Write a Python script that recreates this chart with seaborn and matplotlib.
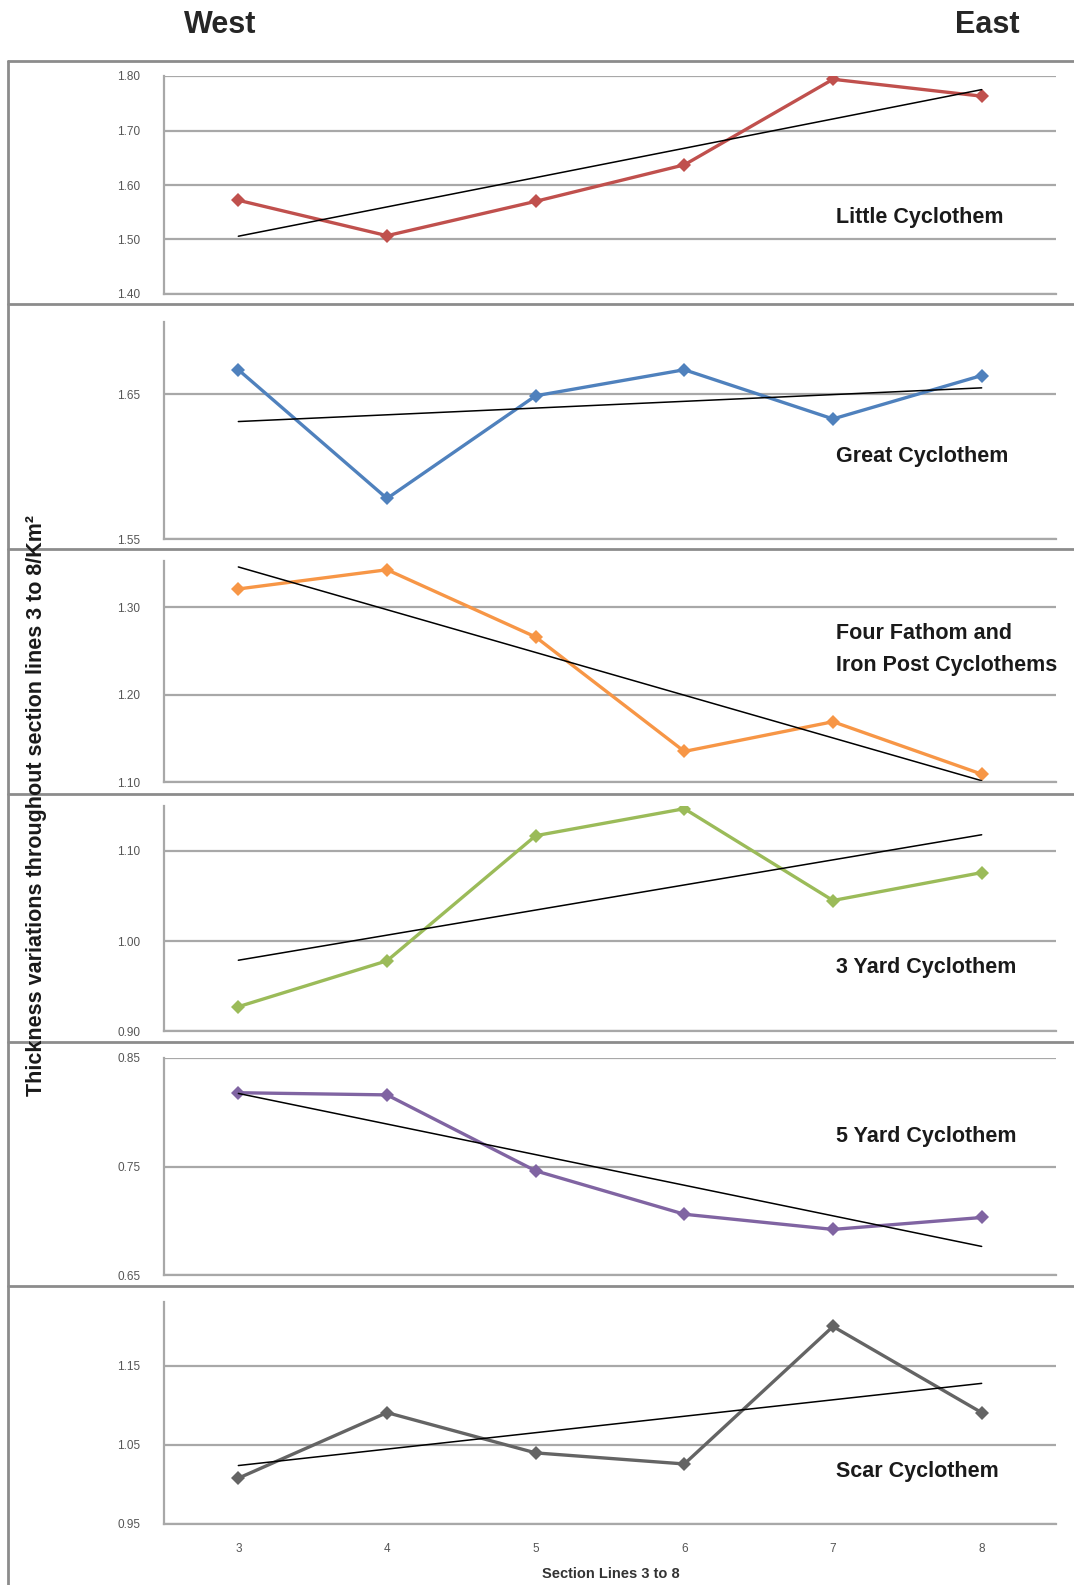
import matplotlib
matplotlib.use("Agg")
import matplotlib.pyplot as plt
import seaborn as sns
from matplotlib.lines import Line2D
from matplotlib.ticker import FixedLocator

# values
sections = [3, 4, 5, 6, 7, 8]
little = [1.572, 1.507, 1.570, 1.637, 1.794, 1.763]
great = [1.667, 1.578, 1.649, 1.667, 1.633, 1.663]
four_fathom = [1.321, 1.343, 1.266, 1.135, 1.169, 1.109]
three_yard = [0.927, 0.978, 1.117, 1.147, 1.045, 1.076]
five_yard = [0.818, 0.816, 0.746, 0.706, 0.692, 0.703]
scar = [1.008, 1.091, 1.040, 1.026, 1.200, 1.091]

panel_names = ["Little Cyclothem", "Great Cyclothem",
               "Four Fathom and\nIron Post Cyclothems", "3 Yard Cyclothem",
               "5 Yard Cyclothem", "Scar Cyclothem"]
panel_series = [little, great, four_fathom, three_yard, five_yard, scar]
panel_colors = ["#c0504d", "#4f81bd", "#f79646", "#9bbb59", "#8064a2", "#646464"]
panel_yticks = [[1.40, 1.50, 1.60, 1.70, 1.80], [1.55, 1.65], [1.10, 1.20, 1.30],
                [0.90, 1.00, 1.10], [0.65, 0.75, 0.85], [0.95, 1.05, 1.15]]
panel_ylims = [(1.40, 1.80), (1.55, 1.70), (1.10, 1.353), (0.90, 1.15),
               (0.65, 0.85), (0.95, 1.231)]

sns.set_style("white")
plt.rcParams["font.family"] = ["Liberation Sans", "DejaVu Sans"]

W, H = 1074, 1585
fig = plt.figure(figsize=(W / 100, H / 100), dpi=100)

# pixel layout of the six stacked axes (top, bottom)
ax_rows = [(76, 294), (322, 539), (561, 782), (806, 1031), (1058, 1275), (1302, 1524)]
ax_left, ax_right = 164, 1056
label_y = [0.35, 0.378, 0.6, 0.28, 0.64, 0.235]
grid_col = "#a8a8a8"

for i, (top, bottom) in enumerate(ax_rows):
    ax = fig.add_axes([ax_left / W, 1 - bottom / H, (ax_right - ax_left) / W, (bottom - top) / H])
    sns.lineplot(x=sections, y=panel_series[i], color=panel_colors[i], lw=2.4,
                 marker="D", markersize=7, markeredgewidth=0, ax=ax)
    sns.regplot(x=sections, y=panel_series[i], scatter=False, ci=None, truncate=True,
                line_kws=dict(color="black", lw=1.1), ax=ax)
    ax.set_xlim(2.5, 8.5)
    ax.set_ylim(*panel_ylims[i])
    ax.set_yticks(panel_yticks[i])
    ax.set_yticklabels([f"{v:.2f}" for v in panel_yticks[i]])
    ax.yaxis.grid(True, color=grid_col, lw=1.6)
    ax.set_axisbelow(True)
    for side in ["top", "right"]:
        ax.spines[side].set_visible(False)
    for side in ["left", "bottom"]:
        ax.spines[side].set_color(grid_col)
        ax.spines[side].set_linewidth(1.6)
    ax.tick_params(axis="y", direction="out", length=5, width=1.2, color=grid_col,
                   labelsize=8.5, labelcolor="#555555", pad=12)
    ax.set_xticks(sections)
    ax.xaxis.set_minor_locator(FixedLocator([3.5, 4.5, 5.5, 6.5, 7.5, 8.5]))
    ax.tick_params(axis="x", which="minor", direction="out", length=4, width=1.2, color=grid_col)
    ax.tick_params(axis="x", which="major", length=0, labelsize=8.5,
                   labelcolor="#555555", pad=14)
    if i < len(ax_rows) - 1:
        ax.set_xticklabels([])
    ax.set_xlabel("")
    ax.set_ylabel("")
    ax.text(7.02, label_y[i], panel_names[i], transform=ax.get_xaxis_transform(),
            ha="left", va="center", fontsize=15.5, fontweight="bold", color="#1a1a1a",
            linespacing=1.7)

# panel frames
frame_col = "#8c8c8c"
for y in [61, 304, 549, 794, 1042, 1286]:
    fig.add_artist(Line2D([8 / W, 1], [1 - y / H, 1 - y / H], transform=fig.transFigure,
                          color=frame_col, lw=2))
fig.add_artist(Line2D([8 / W, 8 / W], [1 - 61 / H, 0], transform=fig.transFigure,
                      color=frame_col, lw=2))

fig.text(220 / W, 1 - 25 / H, "West", ha="center", va="center", fontsize=22, fontweight="bold")
fig.text(987 / W, 1 - 25 / H, "East", ha="center", va="center", fontsize=22, fontweight="bold")
fig.text(37 / W, 1 - 805 / H, "Thickness variations throughout section lines 3 to 8/Km²",
         rotation=90, ha="center", va="center", fontsize=15.5, fontweight="bold", color="#1a1a1a")
fig.text(611 / W, 1 - 1574 / H, "Section Lines 3 to 8", ha="center", va="center",
         fontsize=10.5, fontweight="bold", color="#333333")

fig.savefig("out.png", dpi=100)
